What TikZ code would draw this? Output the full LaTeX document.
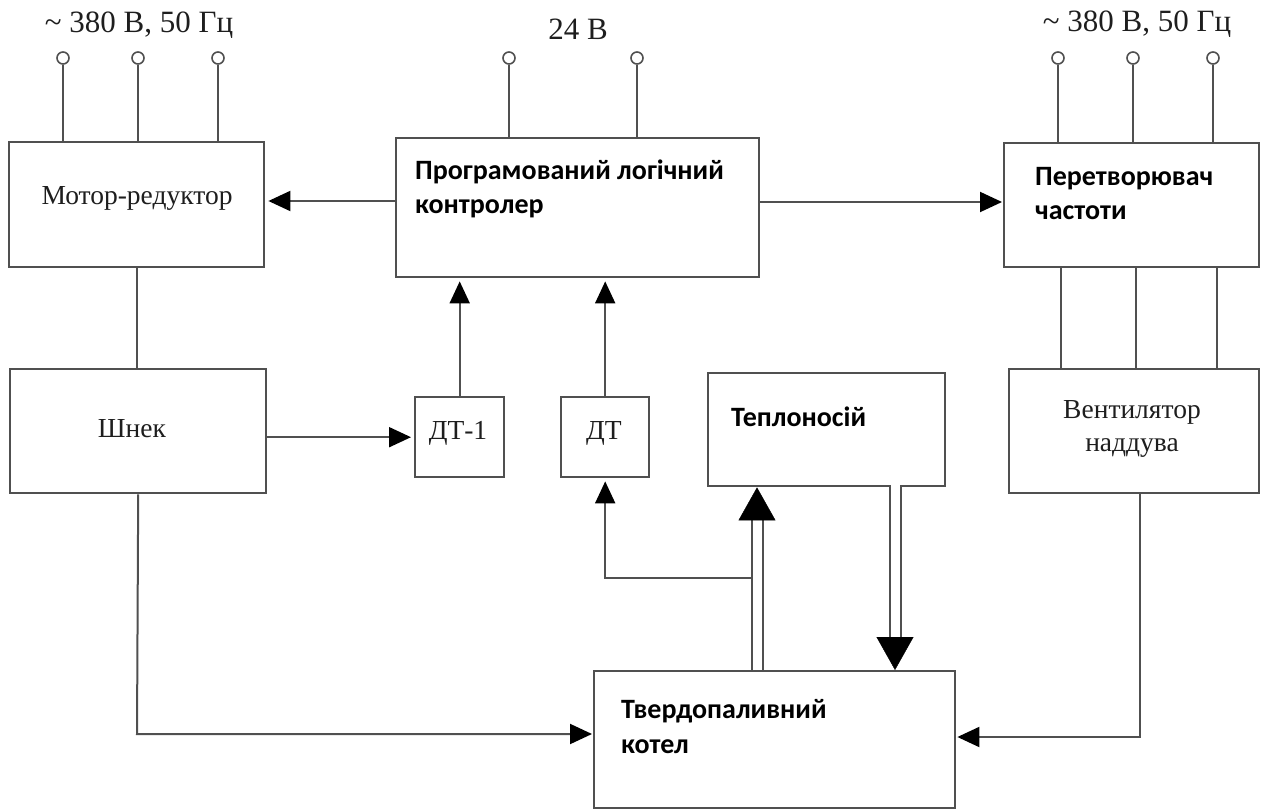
\documentclass[tikz,border=0pt]{standalone}
\usepackage{fontspec}
\setmainfont{Liberation Serif}
\newfontfamily\calfont{Carlito}
\usetikzlibrary{arrows.meta,calc}
\definecolor{lc}{HTML}{505050}
\definecolor{tc}{HTML}{1E1E1E}
\begin{document}
\begin{tikzpicture}[x=1pt,y=-1pt,
  box/.style={draw=lc,line width=2.4pt,inner sep=0pt,anchor=north west,fill=white},
  wire/.style={draw=lc,line width=2pt},
  arr/.style={wire,-{Triangle[length=22pt,width=20pt,color=black]},shorten >=3pt},
  bigarr/.style={draw=black,line width=0.4pt,-{Triangle[length=33pt,width=37pt,color=black]}},
  dbl/.style={draw=lc,line width=2pt,double=white,double distance=9pt},
  term/.style={circle,draw=lc,line width=1.6pt,minimum size=12pt,inner sep=0pt,fill=white},
  serif/.style={inner sep=0pt,text=tc,font=\fontsize{31}{36}\selectfont},
  sbox/.style={inner sep=0pt,text=tc,align=center,font=\fontsize{27.5}{34}\selectfont},
  bold/.style={inner sep=0pt,text=black,align=left,anchor=base west,font=\calfont\bfseries\fontsize{28}{34.5}\selectfont}]
\useasboundingbox (0,0) rectangle (1262,810);
% boxes
\node[box,minimum width=255pt,minimum height=125pt] (mot) at (8,141) {};
\node[box,minimum width=363pt,minimum height=139pt] (plc) at (395,137) {};
\node[box,minimum width=255pt,minimum height=124pt] (pch) at (1003,142) {};
\node[box,minimum width=256pt,minimum height=124pt] (shn) at (9,368) {};
\node[box,minimum width=89pt,minimum height=80pt] (dt1) at (414,396) {};
\node[box,minimum width=88pt,minimum height=80pt] (dt) at (560,396) {};
\node[box,minimum width=237pt,minimum height=113pt] (tep) at (707,372) {};
\node[box,minimum width=250pt,minimum height=124pt] (ven) at (1008,368) {};
\node[box,minimum width=361pt,minimum height=137pt] (kot) at (593,670) {};
% texts
\node[serif,anchor=base] (l1) at (139,33) {\textasciitilde{} 380 В, 50 Гц};
\node[serif,anchor=base] (l2) at (578,40) {24 В};
\node[serif,anchor=base] (l3) at (1137,32) {\textasciitilde{} 380 В, 50 Гц};
\node[sbox,anchor=base] (tmot) at (137,205) {Мотор-редуктор};
\node[sbox,anchor=base] (tshn) at (132,438) {Шнек};
\node[sbox,anchor=base] (tdt1) at (458,439) {ДТ-1};
\node[sbox,anchor=base] (tdt) at (604,439) {ДТ};
\node[sbox,anchor=base] (tven) at (1132,452) {Вентилятор\\наддува};
\node[bold] (tplc) at (415,214) {Програмований логічний\\контролер};
\node[bold] (tpch) at (1035,220) {Перетворювач\\частоти};
\node[bold] (ttep) at (731,427) {Теплоносій};
\node[bold] (tkot) at (621,753) {Твердопаливний\\котел};
% terminals
\foreach \n/\x/\b in {a1/63/mot,a2/138/mot,a3/218/mot,b1/509/plc,b2/637/plc,c1/1058/pch,c2/1133/pch,c3/1213/pch}{
  \node[term] (\n) at (\x,58) {};
  \draw[wire] (\n) -- (\n |- \b.north);
}
% PLC outputs
\coordinate (pm) at (395,201);
\draw[arr] (pm) -- (pm -| mot.east);
\coordinate (pp) at (758,202);
\draw[arr,shorten >=1pt] (pp) -- (pp -| pch.west);
% motor - shnek
\draw[wire] (mot.south) -- (mot.south |- shn.north);
% shnek - DT-1
\draw[arr] (shn.east |- dt1.west) -- (dt1.west);
% sensors to PLC
\draw[arr] (dt1.north) -- (dt1.north |- plc.south);
\draw[arr] (dt.north) -- (dt.north |- plc.south);
% converter - fan
\foreach \n/\x in {v1/1061,v2/1136,v3/1217}{
  \coordinate (\n) at (\x,300);
  \draw[wire] (\n |- pch.south) -- (\n |- ven.north);
}
% shnek - boiler
\coordinate (kl) at (137,734);
\draw[arr,shorten >=1pt] (shn.south) -- (kl) -- (kl -| kot.west);
% fan - boiler
\coordinate (vs) at (1140,492);
\coordinate (vk) at (1140,737);
\draw[arr,shorten >=1pt] (vs) -- (vk) -- (vk -| kot.east);
% heat carrier loop
\coordinate (ub) at (757,670);
\coordinate (ut) at (757,518);
\draw[dbl] (ub) -- (ut);
\draw[bigarr] (ut) -- (ut |- tep.south);
\coordinate (dtp) at (895,485);
\coordinate (db) at (895,638);
\draw[dbl] (dtp) -- (db);
\draw[bigarr] (db) -- (db |- kot.north);
% feedback to DT
\coordinate (fb) at (751,578);
\draw[arr] (fb) -- (fb -| dt.south) -- (dt.south);
\end{tikzpicture}
\end{document}
